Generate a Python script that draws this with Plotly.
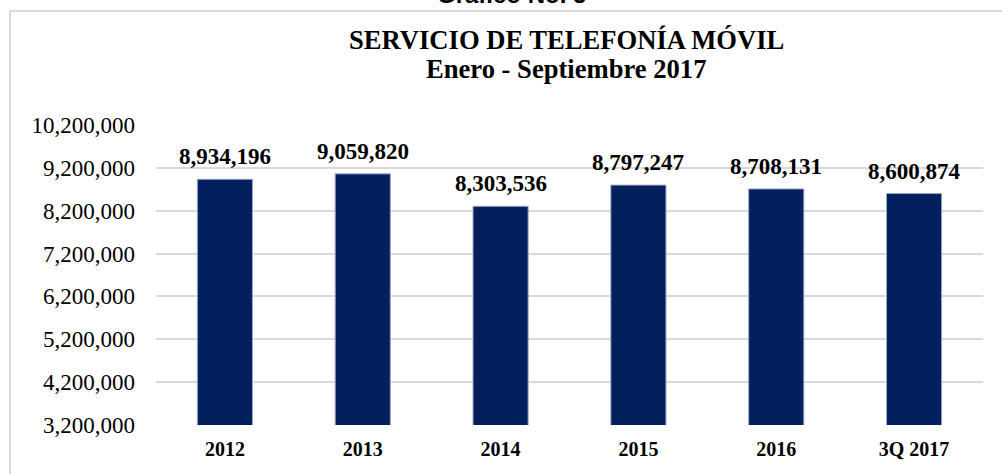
import plotly.graph_objects as go

categories = ["2012", "2013", "2014", "2015", "2016", "3Q 2017"]
values = [8934196, 9059820, 8303536, 8797247, 8708131, 8600874]
value_labels = ["8,934,196", "9,059,820", "8,303,536", "8,797,247", "8,708,131", "8,600,874"]
y_ticks = [3200000, 4200000, 5200000, 6200000, 7200000, 8200000, 9200000, 10200000]
y_tick_labels = ["3,200,000", "4,200,000", "5,200,000", "6,200,000", "7,200,000",
                 "8,200,000", "9,200,000", "10,200,000"]
title_line1 = "SERVICIO DE TELEFONÍA MÓVIL"
title_line2 = "Enero - Septiembre 2017"
caption = "Gráfico No. 5"

W, H = 1002, 474
ML, MR, MT, MB = 156, 19, 125, 49
PW, PH = W - ML - MR, H - MT - MB


def px_x(p):
    return (p - ML) / PW


def px_y(p):
    return (H - MB - p) / PH


serif = "Liberation Serif, Times New Roman, serif"

fig = go.Figure()
fig.add_trace(go.Bar(
    x=categories, y=values,
    marker=dict(color="#02205E", line=dict(color="#9aa8c4", width=1)),
    width=0.4,
    hoverinfo="skip",
))

# data labels: x given as category index on the category axis
for i, (v, t) in enumerate(zip(values, value_labels)):
    fig.add_annotation(x=i, y=v, xref="x", yref="y", text="<b>" + t + "</b>", showarrow=False,
                       yanchor="bottom", yshift=8,
                       font=dict(family=serif, size=23, color="#000000"))

fig.add_annotation(x=px_x(566), y=px_y(40.5), xref="paper", yref="paper",
                   text="<b>" + title_line1 + "</b>", showarrow=False,
                   xanchor="center", yanchor="middle",
                   font=dict(family=serif, size=26.6, color="#000000"))
fig.add_annotation(x=px_x(566), y=px_y(69.5), xref="paper", yref="paper",
                   text="<b>" + title_line2 + "</b>", showarrow=False,
                   xanchor="center", yanchor="middle",
                   font=dict(family=serif, size=26.6, color="#000000"))
fig.add_annotation(x=px_x(511), y=px_y(10), xref="paper", yref="paper",
                   text="<b>" + caption + "</b>", showarrow=False,
                   xanchor="center", yanchor="bottom",
                   font=dict(family="Liberation Sans, Arial, sans-serif", size=24, color="#000000"))

# outer frame lines (top and left)
fig.add_shape(type="line", xref="paper", yref="paper",
              x0=px_x(10), x1=px_x(1010), y0=px_y(11), y1=px_y(11),
              line=dict(color="#d9d9d9", width=2))
fig.add_shape(type="line", xref="paper", yref="paper",
              x0=px_x(10), x1=px_x(10), y0=px_y(11), y1=px_y(480),
              line=dict(color="#d9d9d9", width=2))

fig.update_layout(
    width=W, height=H,
    margin=dict(l=ML, r=MR, t=MT, b=MB, pad=0, autoexpand=False),
    paper_bgcolor="white", plot_bgcolor="white",
    showlegend=False,
    xaxis=dict(
        type="category", range=[-0.5, len(categories) - 0.5], automargin=False,
        tickfont=dict(family=serif, size=20, color="#000000", weight="bold"),
        showgrid=False, showline=False, ticks="", ticklabelstandoff=10,
        fixedrange=True,
    ),
    yaxis=dict(
        range=[3200000, 10200000], automargin=False,
        tickvals=y_ticks, ticktext=y_tick_labels,
        tickfont=dict(family=serif, size=23, color="#000000"),
        showgrid=True, gridcolor="#d9d9d9", gridwidth=1.5,
        zeroline=False, showline=False, ticks="", ticklabelstandoff=20,
        fixedrange=True,
    ),
)

fig.write_html("out.html",
               config={"displayModeBar": False},
               post_script="document.body.style.margin='0';document.body.style.overflow='hidden';")
